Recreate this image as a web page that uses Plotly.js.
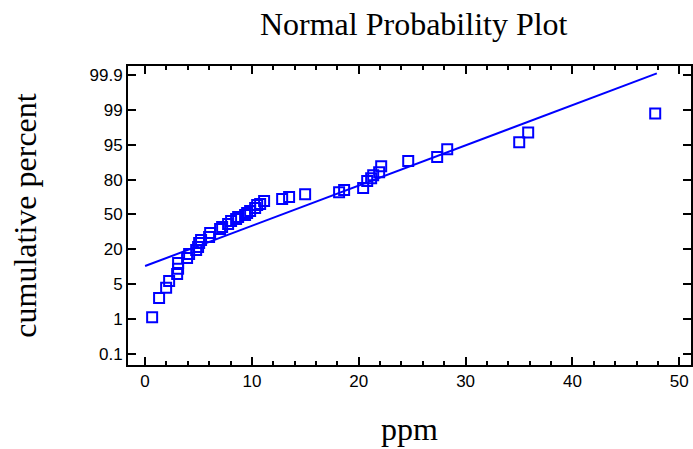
<!DOCTYPE html>
<html>
<head>
<meta charset="utf-8">
<script src="https://cdn.plot.ly/plotly-3.0.1.min.js"></script>
<style>html,body{margin:0;padding:0;background:#fff;}#chart{width:693px;height:449px;}</style>
</head>
<body>
<div id="chart"></div>
<script>
// probability-scale tick labels (evenly spaced on the plot)
const probTicks = [0.1, 1, 5, 20, 50, 80, 95, 99, 99.9];
const probTickText = ["0.1", "1", "5", "20", "50", "80", "95", "99", "99.9"];

// observations (ppm) and their cumulative percent
const ppm = [0.66, 1.31, 1.97, 2.25, 3.0, 3.09, 3.09, 3.93, 4.12, 4.78, 4.96, 5.06, 5.24, 5.99, 6.09,
  7.02, 7.21, 7.77, 8.05, 8.52, 8.71, 9.36, 9.55, 9.83, 10.30, 10.49, 10.77, 11.14, 12.83, 13.48,
  14.98, 18.16, 18.63, 20.41, 20.79, 21.16, 21.35, 21.91, 22.10, 24.63, 27.34, 28.28, 35.02, 35.86, 47.75];
const cumPct = [1.2, 3.4, 4.6, 6.4, 9.4, 11.6, 14.1, 16.3, 18.0, 19.7, 22.0, 25.4, 28.0, 30.6, 34.0,
  37.5, 39.2, 41.7, 44.3, 46.0, 47.8, 49.5, 51.2, 52.9, 55.5, 58.1, 58.9, 61.5, 63.2, 65.0,
  67.5, 69.2, 71.0, 72.7, 78.7, 80.6, 81.9, 83.2, 85.8, 88.0, 89.7, 93.1, 95.3, 96.4, 98.6];

// fitted reference line
const lineX = [0.0, 47.9];
const lineY = [12.8, 99.945];

// map a percent to the evenly spaced probability-axis position
function probPos(p) {
  const t = probTicks;
  let i = 0;
  if (p >= t[t.length - 1]) i = t.length - 2;
  else { while (i < t.length - 2 && p > t[i + 1]) i++; }
  return i + (p - t[i]) / (t[i + 1] - t[i]);
}

const blue = "#0000ff";
const traces = [
  {
    x: lineX, y: lineY.map(probPos), mode: "lines", type: "scatter",
    line: {color: blue, width: 2}, hoverinfo: "skip", showlegend: false
  },
  {
    x: ppm, y: cumPct.map(probPos), mode: "markers", type: "scatter",
    marker: {symbol: "square-open", size: 10, color: blue, line: {width: 2, color: blue}},
    showlegend: false
  }
];

const tickFont = {family: "Liberation Sans Narrow, Liberation Sans, Arial, sans-serif", size: 17, color: "#000"};
const titleFont = {family: "Liberation Serif, Times New Roman, serif", size: 32, color: "#000"};

const layout = {
  width: 693, height: 449,
  margin: {l: 128, r: 2, t: 66, b: 84, pad: 0},
  paper_bgcolor: "#fff", plot_bgcolor: "#fff",
  title: {text: "Normal Probability Plot", font: titleFont, x: 0.597, xanchor: "center", y: 0.947, yanchor: "middle"},
  xaxis: {
    range: [-1.6, 51.1], tickvals: [0, 10, 20, 30, 40, 50],
    ticks: "inside", ticklen: 8, tickwidth: 2, tickcolor: "#000",
    minor: {dtick: 2, tick0: 0, ticks: "inside", ticklen: 4, tickwidth: 2, tickcolor: "#000"},
    showline: true, linewidth: 2, linecolor: "#000", mirror: "ticks",
    showgrid: false, zeroline: false, tickfont: tickFont,
    title: {text: "ppm", font: titleFont, standoff: 27}
  },
  yaxis: {
    range: [-0.32, 8.26], tickvals: probTicks.map(probPos), ticktext: probTickText,
    ticks: "inside", ticklen: 8, tickwidth: 2, tickcolor: "#000",
    showline: true, linewidth: 2, linecolor: "#000", mirror: "ticks",
    showgrid: false, zeroline: false, tickfont: tickFont,
    title: {text: "cumulative percent", font: titleFont, standoff: 43}
  }
};

Plotly.newPlot("chart", traces, layout, {displayModeBar: false, staticPlot: true});
</script>
</body>
</html>
